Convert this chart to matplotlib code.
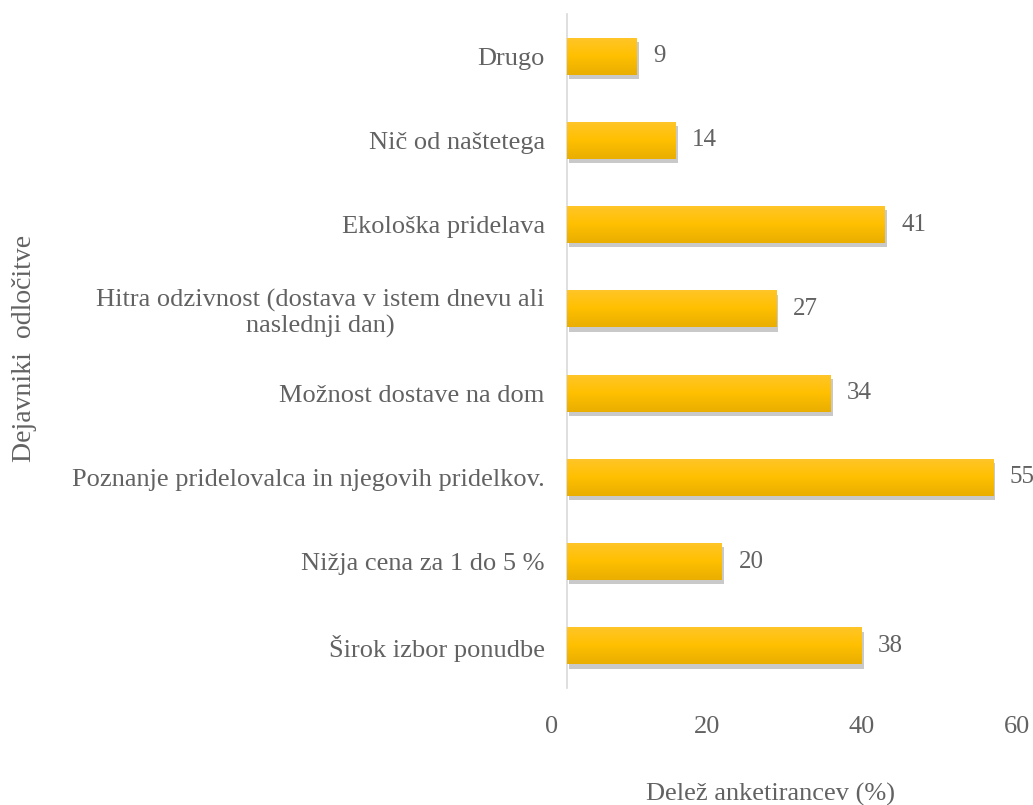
import matplotlib
matplotlib.use("Agg")
import matplotlib.pyplot as plt
import matplotlib.transforms as mtransforms
from matplotlib import patheffects
from matplotlib.colors import LinearSegmentedColormap
import numpy as np

categories = [
    "Širok izbor ponudbe",
    "Nižja cena za 1 do 5 %",
    "Poznanje pridelovalca in njegovih pridelkov.",
    "Možnost dostave na dom",
    "Hitra odzivnost (dostava v istem dnevu ali\nnaslednji dan)",
    "Ekološka pridelava",
    "Nič od naštetega",
    "Drugo",
]
values = [38, 20, 55, 34, 27, 41, 14, 9]
xticks = [0, 20, 40, 60]

grey = "#626262"
fs = 19
plt.rcParams["font.family"] = ["Liberation Serif", "DejaVu Serif"]

fig = plt.figure(figsize=(10.33, 8.05), dpi=100)
ax = fig.add_axes([567 / 1033, 117 / 805, 465 / 1033, 674 / 805])

bars = ax.barh(range(len(values)), values, height=0.44, color="#FFC000", zorder=3)
for b in bars:
    b.set_path_effects([patheffects.SimplePatchShadow(offset=(1.5, -3), alpha=0.28, shadow_rgbFace="#404040"),
                        patheffects.Normal()])

# soft vertical gradient like the office chart fill
grad_cmap = LinearSegmentedColormap.from_list("gold", ["#E9AE00", "#FFC000", "#FFC52A"])
grad = np.linspace(0, 1, 64).reshape(-1, 1)
for b in bars:
    x0, y0 = b.get_x(), b.get_y()
    im = ax.imshow(grad, cmap=grad_cmap, origin="lower", aspect="auto", zorder=3.5,
                   extent=[x0, x0 + b.get_width(), y0, y0 + b.get_height()])
    im.set_clip_path(b)

for i, v in enumerate(values):
    ax.annotate(str(v), (v, i), xytext=(12, 0), textcoords="offset points",
                va="center", ha="left", fontsize=fs - 1, color=grey)

ax.set_aspect("auto")
ax.set_xlim(0, 60)
ax.set_ylim(-0.5, len(values) - 0.5)
ax.set_yticks(range(len(values)))
ax.set_yticklabels(categories, fontsize=fs, color=grey, multialignment="center")
ax.set_xticks(xticks)
ax.set_xticklabels([str(t) for t in xticks], fontsize=fs, color=grey)
ax.tick_params(axis="both", length=0)
ax.tick_params(axis="y", pad=16)
ax.tick_params(axis="x", pad=20)

# tick labels in the original sit a bit left of the value positions
shift = mtransforms.ScaledTranslation(-15 / 100, 0, fig.dpi_scale_trans)
for lab in ax.get_xticklabels():
    lab.set_transform(lab.get_transform() + shift)

for s in ["top", "right", "bottom"]:
    ax.spines[s].set_visible(False)
ax.spines["left"].set_color("#D9D9D9")
ax.spines["left"].set_linewidth(1.2)

fig.text(770 / 1033, 1 - 794 / 805, "Delež anketirancev (%)", ha="center", va="center",
         fontsize=fs, color=grey)
fig.text(25 / 1033, 1 - 348 / 805, "Dejavniki  odločitve", ha="center", va="center",
         rotation=90, fontsize=fs + 1, color=grey)

fig.savefig("out.png", dpi=100, facecolor="white")
